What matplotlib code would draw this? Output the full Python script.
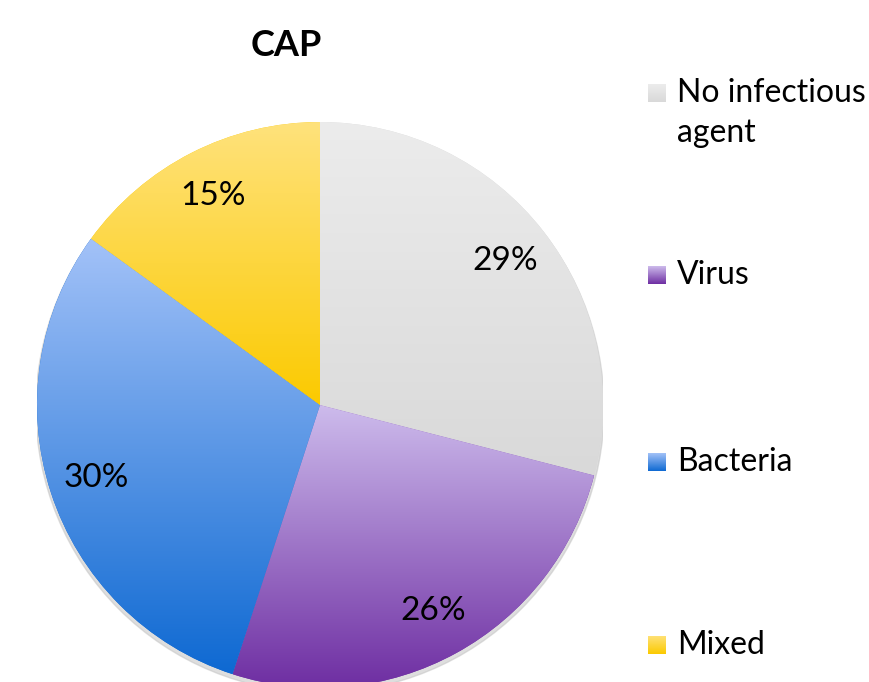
import numpy as np
import matplotlib
matplotlib.use("Agg")
import matplotlib.pyplot as plt
from matplotlib.colors import LinearSegmentedColormap
from matplotlib.patches import Circle

plt.rcParams['font.family'] = ['Lato', 'DejaVu Sans']

# data
labels = ["No infectious\nagent", "Virus", "Bacteria", "Mixed"]
values = [29, 26, 30, 15]
top_colors = ["#ececec", "#cdbbec", "#a3c2f8", "#ffe27c"]
bottom_colors = ["#d9d9d9", "#6e2ea2", "#0e69d2", "#fbca00"]

fig = plt.figure(figsize=(8.69, 6.82), dpi=100)
ax = fig.add_axes([37 / 869, -6 / 682, 566 / 869, 566 / 682])

# soft shadow under the pie
ax.add_patch(Circle((0.0, -0.012), 1.004, color="#c4c4c4", alpha=0.55, zorder=0))

wedges, texts, autotexts = ax.pie(
    values, startangle=90, counterclock=False, radius=1,
    autopct="%d%%", pctdistance=0.83,
    colors=bottom_colors,
    textprops=dict(fontsize=24, color="black"),
    wedgeprops=dict(linewidth=0),
)

# vertical gradient inside each wedge
grad = np.linspace(1, 0, 256).reshape(-1, 1)
for w, c0, c1 in zip(wedges, top_colors, bottom_colors):
    ext = w.get_path().get_extents()
    cmap = LinearSegmentedColormap.from_list("g", [c1, c0])
    im = ax.imshow(grad, cmap=cmap, aspect="auto",
                   extent=[ext.x0, ext.x1, ext.y0, ext.y1],
                   origin="upper", zorder=1, interpolation="bicubic")
    im.set_clip_path(w)
    w.set_zorder(0.5)

for t in autotexts:
    t.set_zorder(3)

ax.set_xlim(-1, 1)
ax.set_ylim(-1, 1)
ax.set_aspect("equal")
ax.axis("off")

fig.text(286 / 869, 1 - 46 / 682, "CAP", fontsize=26, fontweight="bold",
         ha="center", va="center")

# legend on the right
legend_y = [93, 275, 462, 645]
for lab, y, c0, c1 in zip(labels, legend_y, top_colors, bottom_colors):
    lax = fig.add_axes([648 / 869, 1 - (y + 9) / 682, 18 / 869, 18 / 682])
    cmap = LinearSegmentedColormap.from_list("g", [c1, c0])
    lax.imshow(grad, cmap=cmap, aspect="auto")
    lax.axis("off")
    fig.text(677 / 869, 1 - (y - 15) / 682, lab, fontsize=23,
             ha="left", va="top", linespacing=1.4)

fig.savefig("out.png", dpi=100)
